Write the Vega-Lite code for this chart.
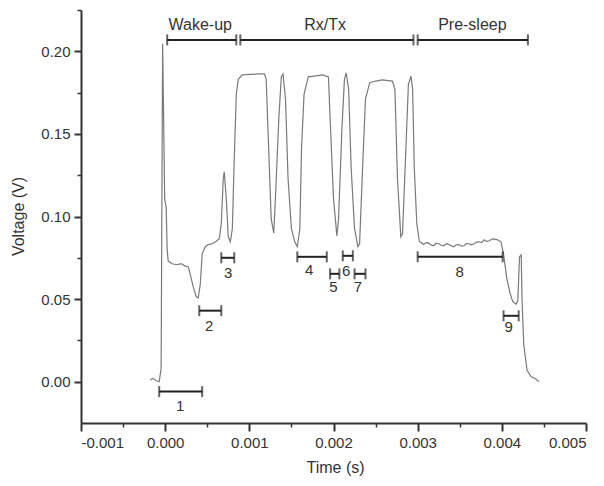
{
  "$schema": "https://vega.github.io/schema/vega-lite/v6.json",
  "width": 505,
  "height": 413,
  "autosize": {"type": "none"},
  "padding": {"left": 81, "top": 10, "right": 18, "bottom": 63},
  "background": "white",
  "config": {
    "view": {"stroke": null},
    "font": "Liberation Sans",
    "axis": {
      "grid": false,
      "domainColor": "#333333",
      "domainWidth": 2,
      "tickColor": "#333333",
      "tickWidth": 2,
      "labelColor": "#333333",
      "titleColor": "#333333",
      "labelFont": "Liberation Sans",
      "titleFont": "Liberation Sans",
      "labelFontSize": 15,
      "titleFontSize": 16,
      "titleFontWeight": "normal"
    }
  },
  "datasets": {
    "trace": [
      {"t": -0.000179, "v": 0.001},
      {"t": -0.000143, "v": 0.002},
      {"t": -0.000107, "v": 0.0006},
      {"t": -0.000071, "v": 0.0},
      {"t": -0.000048, "v": 0.008},
      {"t": -0.000036, "v": 0.141},
      {"t": -0.00003, "v": 0.2045},
      {"t": -0.000018, "v": 0.159},
      {"t": -0.000006, "v": 0.111},
      {"t": 0.000012, "v": 0.105},
      {"t": 0.000024, "v": 0.080},
      {"t": 0.000036, "v": 0.073},
      {"t": 0.000083, "v": 0.0714},
      {"t": 0.000143, "v": 0.0708},
      {"t": 0.00019, "v": 0.0714},
      {"t": 0.000238, "v": 0.070},
      {"t": 0.000274, "v": 0.0696},
      {"t": 0.000298, "v": 0.065},
      {"t": 0.000333, "v": 0.0575},
      {"t": 0.000369, "v": 0.0514},
      {"t": 0.000393, "v": 0.0508},
      {"t": 0.000417, "v": 0.059},
      {"t": 0.00044, "v": 0.0774},
      {"t": 0.000476, "v": 0.0817},
      {"t": 0.000512, "v": 0.083},
      {"t": 0.00056, "v": 0.0835},
      {"t": 0.000607, "v": 0.085},
      {"t": 0.000643, "v": 0.0865},
      {"t": 0.000667, "v": 0.0956},
      {"t": 0.00069, "v": 0.123},
      {"t": 0.000702, "v": 0.127},
      {"t": 0.000726, "v": 0.111},
      {"t": 0.00075, "v": 0.0877},
      {"t": 0.000774, "v": 0.0847},
      {"t": 0.000798, "v": 0.0926},
      {"t": 0.000821, "v": 0.135},
      {"t": 0.000845, "v": 0.174},
      {"t": 0.000869, "v": 0.183},
      {"t": 0.000917, "v": 0.1857},
      {"t": 0.00101, "v": 0.186},
      {"t": 0.00111, "v": 0.1863},
      {"t": 0.00118, "v": 0.1863},
      {"t": 0.0012, "v": 0.183},
      {"t": 0.00123, "v": 0.141},
      {"t": 0.00126, "v": 0.0986},
      {"t": 0.00129, "v": 0.090},
      {"t": 0.00131, "v": 0.111},
      {"t": 0.00135, "v": 0.159},
      {"t": 0.00138, "v": 0.1845},
      {"t": 0.0014, "v": 0.1863},
      {"t": 0.00143, "v": 0.171},
      {"t": 0.00146, "v": 0.123},
      {"t": 0.0015, "v": 0.0926},
      {"t": 0.00154, "v": 0.0847},
      {"t": 0.00157, "v": 0.0817},
      {"t": 0.0016, "v": 0.0926},
      {"t": 0.00162, "v": 0.141},
      {"t": 0.00165, "v": 0.174},
      {"t": 0.0017, "v": 0.1845},
      {"t": 0.00177, "v": 0.185},
      {"t": 0.00187, "v": 0.1857},
      {"t": 0.00194, "v": 0.1845},
      {"t": 0.00196, "v": 0.159},
      {"t": 0.002, "v": 0.111},
      {"t": 0.00204, "v": 0.0883},
      {"t": 0.00206, "v": 0.0986},
      {"t": 0.0021, "v": 0.153},
      {"t": 0.00213, "v": 0.183},
      {"t": 0.00215, "v": 0.187},
      {"t": 0.00218, "v": 0.177},
      {"t": 0.00221, "v": 0.129},
      {"t": 0.00225, "v": 0.0926},
      {"t": 0.00229, "v": 0.0817},
      {"t": 0.00231, "v": 0.0835},
      {"t": 0.00235, "v": 0.135},
      {"t": 0.00238, "v": 0.171},
      {"t": 0.00243, "v": 0.181},
      {"t": 0.0025, "v": 0.182},
      {"t": 0.00258, "v": 0.1827},
      {"t": 0.0027, "v": 0.182},
      {"t": 0.00273, "v": 0.177},
      {"t": 0.00276, "v": 0.123},
      {"t": 0.0028, "v": 0.0877},
      {"t": 0.00282, "v": 0.0895},
      {"t": 0.00286, "v": 0.141},
      {"t": 0.00289, "v": 0.180},
      {"t": 0.00292, "v": 0.185},
      {"t": 0.00294, "v": 0.177},
      {"t": 0.00296, "v": 0.129},
      {"t": 0.00299, "v": 0.0956},
      {"t": 0.00302, "v": 0.085},
      {"t": 0.00307, "v": 0.083},
      {"t": 0.0031, "v": 0.0842},
      {"t": 0.00313, "v": 0.084},
      {"t": 0.00316, "v": 0.0828},
      {"t": 0.00319, "v": 0.0823},
      {"t": 0.00322, "v": 0.0838},
      {"t": 0.00325, "v": 0.0835},
      {"t": 0.00328, "v": 0.0826},
      {"t": 0.00331, "v": 0.0823},
      {"t": 0.00334, "v": 0.0836},
      {"t": 0.00337, "v": 0.083},
      {"t": 0.0034, "v": 0.0822},
      {"t": 0.00343, "v": 0.0817},
      {"t": 0.00346, "v": 0.0829},
      {"t": 0.00349, "v": 0.083},
      {"t": 0.00352, "v": 0.0821},
      {"t": 0.00355, "v": 0.0823},
      {"t": 0.00358, "v": 0.0836},
      {"t": 0.00361, "v": 0.0835},
      {"t": 0.00364, "v": 0.0828},
      {"t": 0.00367, "v": 0.0835},
      {"t": 0.0037, "v": 0.0845},
      {"t": 0.00373, "v": 0.0847},
      {"t": 0.00376, "v": 0.0842},
      {"t": 0.00379, "v": 0.0859},
      {"t": 0.00382, "v": 0.0849},
      {"t": 0.00385, "v": 0.0853},
      {"t": 0.00388, "v": 0.0862},
      {"t": 0.0039, "v": 0.0865},
      {"t": 0.00395, "v": 0.0859},
      {"t": 0.00399, "v": 0.0847},
      {"t": 0.00402, "v": 0.0774},
      {"t": 0.00406, "v": 0.0623},
      {"t": 0.0041, "v": 0.0532},
      {"t": 0.00413, "v": 0.0484},
      {"t": 0.00417, "v": 0.047},
      {"t": 0.00419, "v": 0.049},
      {"t": 0.00421, "v": 0.0756},
      {"t": 0.00423, "v": 0.0768},
      {"t": 0.00424, "v": 0.050},
      {"t": 0.00426, "v": 0.023},
      {"t": 0.0043, "v": 0.0067},
      {"t": 0.00435, "v": 0.003},
      {"t": 0.0044, "v": 0.0018},
      {"t": 0.00444, "v": 0.0}
    ],
    "brackets": [
      {"t1": 0.000024, "t2": 0.000845, "v": 0.2069},
      {"t1": 0.000893, "t2": 0.00295, "v": 0.2069},
      {"t1": 0.003, "t2": 0.00431, "v": 0.2069},
      {"t1": -0.000071, "t2": 0.00044, "v": -0.006},
      {"t1": 0.000405, "t2": 0.000667, "v": 0.043},
      {"t1": 0.000667, "t2": 0.000821, "v": 0.075},
      {"t1": 0.00157, "t2": 0.00192, "v": 0.0756},
      {"t1": 0.00196, "t2": 0.00207, "v": 0.0653},
      {"t1": 0.00211, "t2": 0.00223, "v": 0.0762},
      {"t1": 0.00225, "t2": 0.00238, "v": 0.0653},
      {"t1": 0.003, "t2": 0.00401, "v": 0.0756},
      {"t1": 0.00402, "t2": 0.0042, "v": 0.0399}
    ],
    "labels": [
      {"t": 0.000417, "v": 0.213, "label": "Wake-up", "kind": "phase"},
      {"t": 0.0019, "v": 0.213, "label": "Rx/Tx", "kind": "phase"},
      {"t": 0.00365, "v": 0.213, "label": "Pre-sleep", "kind": "phase"},
      {"t": 0.000179, "v": -0.0175, "label": "1", "kind": "step"},
      {"t": 0.000524, "v": 0.0309, "label": "2", "kind": "step"},
      {"t": 0.00075, "v": 0.0629, "label": "3", "kind": "step"},
      {"t": 0.00171, "v": 0.0647, "label": "4", "kind": "step"},
      {"t": 0.002, "v": 0.0545, "label": "5", "kind": "step"},
      {"t": 0.00215, "v": 0.0641, "label": "6", "kind": "step"},
      {"t": 0.00229, "v": 0.0545, "label": "7", "kind": "step"},
      {"t": 0.0035, "v": 0.0635, "label": "8", "kind": "step"},
      {"t": 0.00408, "v": 0.0303, "label": "9", "kind": "step"}
    ]
  },
  "resolve": {"axis": {"x": "independent", "y": "independent"}},
  "layer": [
    {
      "data": {"name": "trace"},
      "mark": {"type": "line", "color": "#7a7a7a", "strokeWidth": 1.2},
      "encoding": {
        "x": {
          "field": "t", "type": "quantitative",
          "scale": {"domain": [-0.001, 0.005], "nice": false, "zero": false},
          "axis": {
            "orient": "bottom",
            "values": [-0.001, 0, 0.001, 0.002, 0.003, 0.004, 0.005],
            "format": ".3f",
            "labelExpr": "replace(datum.label, '\u2212', '-')",
            "tickSize": 8,
            "labelPadding": 4,
            "title": "Time (s)",
            "titleX": 254,
            "titleY": 44,
            "titleBaseline": "middle",
            "titleAlign": "center"
          }
        },
        "y": {
          "field": "v", "type": "quantitative",
          "scale": {"domain": [-0.025, 0.225], "nice": false, "zero": false},
          "axis": {
            "orient": "left",
            "values": [0, 0.05, 0.1, 0.15, 0.2],
            "format": ".2f",
            "tickSize": 7,
            "labelPadding": 4,
            "title": "Voltage (V)",
            "titleX": -63,
            "titleY": 206,
            "titleAngle": -90,
            "titleBaseline": "middle",
            "titleAlign": "center"
          }
        }
      }
    },
    {
      "data": {"name": "brackets"},
      "mark": {"type": "rule", "color": "#222222", "strokeWidth": 2},
      "encoding": {
        "x": {
          "field": "t1", "type": "quantitative",
          "axis": {
            "orient": "bottom",
            "values": [-0.0005, 0.0005, 0.0015, 0.0025, 0.0035, 0.0045],
            "labels": false, "domain": false, "tickSize": 4, "tickWidth": 1.5, "title": null
          }
        },
        "x2": {"field": "t2"},
        "y": {
          "field": "v", "type": "quantitative",
          "axis": {
            "orient": "left",
            "values": [0.025, 0.075, 0.125, 0.175, 0.225],
            "labels": false, "domain": false, "tickSize": 4, "tickWidth": 1.5, "title": null
          }
        }
      }
    },
    {
      "data": {"name": "brackets"},
      "mark": {"type": "tick", "orient": "vertical", "color": "#222222", "size": 11, "thickness": 2},
      "encoding": {
        "x": {"field": "t1", "type": "quantitative", "axis": null},
        "y": {"field": "v", "type": "quantitative", "axis": null}
      }
    },
    {
      "data": {"name": "brackets"},
      "mark": {"type": "tick", "orient": "vertical", "color": "#222222", "size": 11, "thickness": 2},
      "encoding": {
        "x": {"field": "t2", "type": "quantitative", "axis": null},
        "y": {"field": "v", "type": "quantitative", "axis": null}
      }
    },
    {
      "data": {"name": "labels"},
      "transform": [{"filter": "datum.kind == 'phase'"}],
      "mark": {"type": "text", "color": "#333333", "fontSize": 16, "font": "Liberation Sans", "align": "center", "baseline": "alphabetic"},
      "encoding": {
        "x": {"field": "t", "type": "quantitative", "axis": null},
        "y": {"field": "v", "type": "quantitative", "axis": null},
        "text": {"field": "label"}
      }
    },
    {
      "data": {"name": "labels"},
      "transform": [{"filter": "datum.kind == 'step'"}],
      "mark": {"type": "text", "color": "#333333", "fontSize": 15, "font": "Liberation Sans", "align": "center", "baseline": "alphabetic"},
      "encoding": {
        "x": {"field": "t", "type": "quantitative", "axis": null},
        "y": {"field": "v", "type": "quantitative", "axis": null},
        "text": {"field": "label"}
      }
    }
  ]
}
